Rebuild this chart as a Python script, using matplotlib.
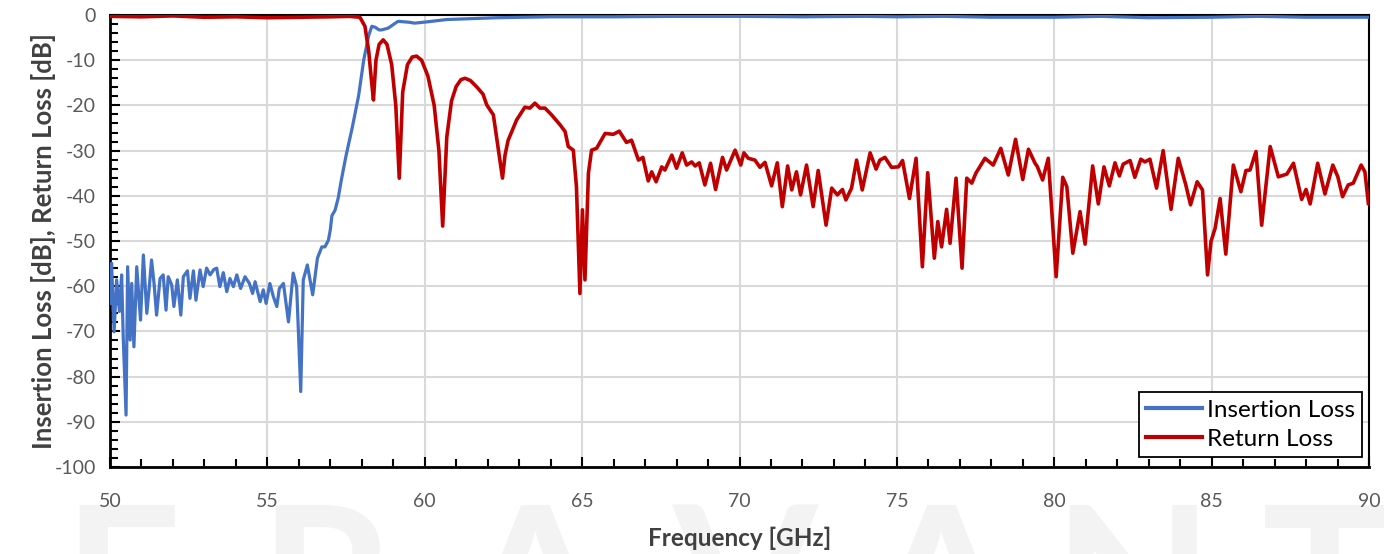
import matplotlib
matplotlib.use("Agg")
import matplotlib.pyplot as plt
from matplotlib.ticker import MultipleLocator

plt.rcParams['font.family'] = ['Lato', 'DejaVu Sans']
plt.rcParams['axes.unicode_minus'] = False

# ---------------- data ----------------
il_freq = [50.00, 50.05, 50.13, 50.21, 50.30, 50.37, 50.42, 50.51, 50.56, 50.64, 50.69, 50.76,
           50.85, 50.93, 50.97, 51.06, 51.17, 51.24, 51.32, 51.40, 51.48, 51.59, 51.69, 51.78,
           51.85, 51.96, 52.03, 52.14, 52.25, 52.33, 52.46, 52.54, 52.65, 52.73, 52.86, 52.96,
           53.07, 53.18, 53.30, 53.39, 53.49, 53.60, 53.71, 53.81, 53.92, 54.03, 54.15, 54.29,
           54.43, 54.53, 54.61, 54.77, 54.87, 54.96, 55.08, 55.19, 55.30, 55.38, 55.51, 55.67,
           55.82, 55.93, 56.06, 56.14, 56.27, 56.44, 56.59, 56.73, 56.83, 56.94, 57.00, 57.05,
           57.15, 57.25, 57.35, 57.50, 57.70, 57.90, 58.06, 58.22, 58.32, 58.42, 58.55, 58.63,
           58.84, 59.15, 59.50, 59.68, 60.10, 60.70, 61.50, 62.30, 64.00, 66.00, 68.00, 70.00,
           72.00, 74.00, 75.00, 76.50, 78.00, 80.00, 81.50, 83.00, 85.00, 86.50, 88.00, 90.00]
il_db = [-63.8, -54.9, -70.1, -58.6, -65.6, -57.5, -71.2, -88.5, -55.7, -71.9, -59.4, -73.4,
         -55.7, -63.8, -67.5, -53.1, -66.0, -60.8, -54.2, -59.4, -66.4, -58.3, -57.5, -65.3,
         -57.9, -59.7, -64.5, -58.6, -66.4, -57.9, -56.6, -62.7, -56.6, -63.1, -56.4, -60.1,
         -56.0, -57.5, -56.3, -56.0, -60.1, -57.0, -61.2, -58.3, -60.1, -57.5, -60.5, -57.9,
         -59.4, -61.6, -59.0, -63.4, -60.8, -63.8, -59.4, -62.3, -64.5, -60.5, -59.4, -67.9,
         -57.1, -60.1, -83.3, -58.6, -55.3, -61.9, -53.8, -51.3, -51.3, -49.8, -47.5, -44.4,
         -43.2, -40.5, -36.5, -31.1, -24.8, -17.8, -10.0, -4.5, -2.5, -2.7, -3.3, -3.3,
         -2.9, -1.4, -1.6, -1.8, -1.5, -1.0, -0.8, -0.6, -0.4, -0.4, -0.3, -0.3,
         -0.4, -0.3, -0.4, -0.3, -0.5, -0.5, -0.3, -0.6, -0.5, -0.3, -0.5, -0.5]

rl_freq = [50.0, 51.0, 52.0, 53.0, 54.0, 55.0, 56.0, 57.0, 57.6, 57.94, 58.10, 58.22, 58.30,
           58.37, 58.45, 58.55, 58.68, 58.80, 58.95, 59.08, 59.19, 59.30, 59.45, 59.60, 59.74,
           59.90, 60.10, 60.30, 60.45, 60.57, 60.70, 60.85, 61.00, 61.15, 61.28, 61.45, 61.65,
           61.85, 61.97, 62.18, 62.34, 62.47, 62.55, 62.65, 62.92, 63.18, 63.34, 63.50, 63.66,
           63.82, 64.03, 64.30, 64.46, 64.56, 64.72, 64.82, 64.93, 65.01, 65.09, 65.20, 65.30,
           65.46, 65.73, 65.99, 66.18, 66.41, 66.57, 66.79, 66.93, 67.10, 67.21, 67.35, 67.53,
           67.63, 67.85, 68.00, 68.18, 68.32, 68.48, 68.59, 68.72, 68.90, 69.08, 69.24, 69.46,
           69.59, 69.86, 70.04, 70.14, 70.28, 70.49, 70.65, 70.81, 71.02, 71.20, 71.36, 71.53,
           71.66, 71.81, 71.94, 72.13, 72.34, 72.50, 72.75, 72.93, 73.11, 73.27, 73.38, 73.56,
           73.72, 73.90, 74.15, 74.34, 74.46, 74.62, 74.83, 75.05, 75.18, 75.40, 75.61, 75.81,
           75.98, 76.19, 76.30, 76.42, 76.58, 76.69, 76.88, 77.07, 77.22, 77.38, 77.51, 77.80,
           78.06, 78.30, 78.54, 78.77, 79.00, 79.18, 79.39, 79.46, 79.63, 79.81, 80.06, 80.27,
           80.40, 80.59, 80.82, 80.98, 81.22, 81.40, 81.58, 81.75, 81.93, 82.07, 82.19, 82.41,
           82.56, 82.75, 82.88, 83.04, 83.25, 83.46, 83.71, 83.94, 84.18, 84.33, 84.54, 84.71,
           84.87, 84.98, 85.11, 85.27, 85.45, 85.69, 85.93, 86.09, 86.22, 86.41, 86.59, 86.86,
           87.12, 87.39, 87.60, 87.86, 88.00, 88.13, 88.37, 88.60, 88.85, 89.01, 89.16, 89.34,
           89.50, 89.75, 89.87, 89.98]
rl_db = [-0.3, -0.4, -0.2, -0.5, -0.4, -0.6, -0.5, -0.4, -0.3, -0.5, -2.5, -8.0, -14.0,
         -18.8, -10.0, -6.5, -5.5, -6.5, -11.0, -20.0, -36.1, -17.0, -11.0, -9.3, -9.1,
         -10.0, -13.5, -20.0, -30.0, -46.7, -27.0, -19.0, -15.8, -14.3, -14.0, -14.5, -15.9,
         -17.5, -19.9, -22.1, -29.9, -36.1, -31.0, -27.7, -23.2, -20.4, -20.6, -19.5, -20.6,
         -20.6, -22.1, -24.3, -25.8, -29.1, -29.9, -38.0, -61.6, -43.1, -58.6, -35.0, -29.9,
         -29.5, -26.2, -26.4, -25.7, -28.2, -27.7, -32.1, -31.5, -36.7, -34.7, -36.9, -33.6,
         -34.3, -31.0, -33.9, -30.5, -33.2, -32.5, -33.4, -32.7, -37.6, -32.8, -38.6, -31.5,
         -34.3, -29.9, -33.2, -30.5, -31.7, -32.1, -33.7, -32.6, -37.8, -32.7, -42.4, -33.4,
         -38.7, -34.7, -39.8, -33.2, -42.4, -34.4, -46.5, -38.3, -39.8, -38.6, -40.9, -38.3,
         -32.1, -38.7, -30.5, -34.1, -32.1, -31.5, -33.7, -33.6, -32.2, -40.6, -31.7, -55.7,
         -34.9, -53.8, -45.7, -51.3, -43.0, -50.5, -36.1, -56.0, -36.1, -37.2, -35.0, -31.7,
         -33.2, -29.5, -35.4, -27.5, -36.4, -29.7, -32.8, -33.5, -36.5, -31.7, -57.9, -35.9,
         -38.0, -52.7, -43.5, -50.7, -33.4, -41.8, -33.6, -37.8, -32.7, -35.6, -33.0, -32.2,
         -35.9, -31.9, -32.5, -31.9, -38.3, -30.0, -43.0, -31.7, -37.6, -42.0, -36.9, -38.7,
         -57.5, -50.1, -47.2, -40.6, -52.9, -33.2, -39.1, -34.4, -34.3, -30.2, -46.5, -29.1,
         -35.8, -35.2, -32.8, -40.8, -38.6, -41.8, -32.8, -39.6, -33.2, -35.8, -40.2, -37.6,
         -37.2, -33.2, -34.7, -41.7]

x_ticks = [50, 55, 60, 65, 70, 75, 80, 85, 90]
y_ticks = [0, -10, -20, -30, -40, -50, -60, -70, -80, -90, -100]
watermark_letters = ["E", "R", "A", "V", "A", "N", "T"]

# ---------------- figure ----------------
W, H = 1395, 554
fig = plt.figure(figsize=(W / 100, H / 100), dpi=100)

# watermark (behind everything)
wm_x = [62, 258, 462, 672, 868, 1052, 1262]
for ch, xp in zip(watermark_letters, wm_x):
    fig.text(xp / W, 1 - 656 / H, ch, fontsize=150, fontweight='bold',
             color='#f3f3f3', ha='left', va='baseline', zorder=-10,
             family=['Lato', 'DejaVu Sans'])

ax = fig.add_axes([110 / W, 1 - 467 / H, (1369 - 110) / W, (467 - 15) / H])
ax.set_facecolor('none')
ax.set_zorder(1)

ax.plot(il_freq, il_db, color='#4472C4', lw=2.3, label='Insertion Loss',
        solid_joinstyle='round', zorder=3)
ax.plot(rl_freq, rl_db, color='#C00000', lw=2.6, label='Return Loss',
        solid_joinstyle='round', zorder=4)

ax.set_xlim(50, 90)
ax.set_ylim(-100, 0)
ax.set_xticks(x_ticks)
ax.set_yticks(y_ticks)
ax.xaxis.set_minor_locator(MultipleLocator(1))
ax.yaxis.set_minor_locator(MultipleLocator(2))

ax.grid(True, which='major', color='#d9d9d9', lw=1.5, zorder=0)
ax.set_axisbelow(True)

ax.tick_params(which='both', direction='in', color='black', width=1.5,
               top=False, right=False)
ax.tick_params(which='major', length=7, labelsize=14, labelcolor='#595959')
ax.tick_params(which='minor', length=6)
ax.tick_params(axis='x', which='major', pad=19)
ax.tick_params(axis='y', which='major', pad=10)

for side in ['left', 'bottom']:
    ax.spines[side].set_linewidth(2.0)
    ax.spines[side].set_color('black')
for side in ['top', 'right']:
    ax.spines[side].set_linewidth(1.5)
    ax.spines[side].set_color('black')

ax.set_xlabel('Frequency [GHz]', fontsize=17.5, fontweight='bold', color='#404040', labelpad=12)
ax.set_ylabel('Insertion Loss [dB], Return Loss [dB]', fontsize=18.5, fontweight='bold',
              color='#404040', labelpad=-1)

leg = ax.legend(loc='lower right', bbox_to_anchor=(0.9945, 0.022), fontsize=17.5,
                frameon=True, fancybox=False, framealpha=1, edgecolor='black',
                borderpad=0.3, handlelength=2.3, handletextpad=0.2, labelspacing=0.33,
                borderaxespad=0)
leg.get_frame().set_linewidth(1.3)
for line in leg.get_lines():
    line.set_linewidth(3)

fig.savefig('out.png', dpi=100)
